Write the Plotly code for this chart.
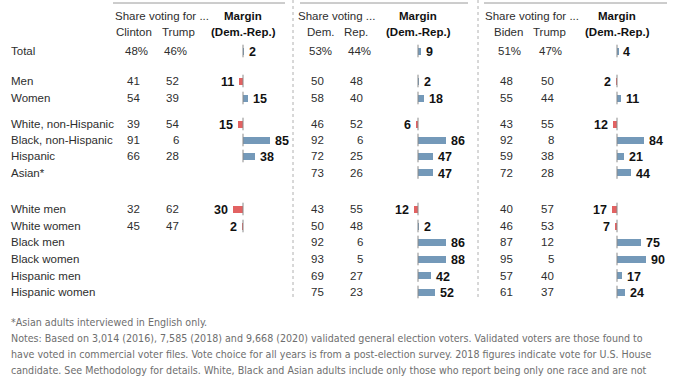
import plotly.graph_objects as go

W, H = 678, 381

categories = ["Total", "Men", "Women", "White, non-Hispanic", "Black, non-Hispanic",
              "Hispanic", "Asian*", "White men", "White women", "Black men",
              "Black women", "Hispanic men", "Hispanic women"]

# 2016
dem_2016 = [48, 41, 54, 39, 91, 66, None, 32, 45, None, None, None, None]
rep_2016 = [46, 52, 39, 54, 6, 28, None, 62, 47, None, None, None, None]
margin_2016 = [2, -11, 15, -15, 85, 38, None, -30, -2, None, None, None, None]
# 2018
dem_2018 = [53, 50, 58, 46, 92, 72, 73, 43, 50, 92, 93, 69, 75]
rep_2018 = [44, 48, 40, 52, 6, 25, 26, 55, 48, 6, 5, 27, 23]
margin_2018 = [9, 2, 18, -6, 86, 47, 47, -12, 2, 86, 88, 42, 52]
# 2020
dem_2020 = [51, 48, 55, 43, 92, 59, 72, 40, 46, 87, 95, 57, 61]
rep_2020 = [47, 50, 44, 55, 8, 38, 28, 57, 53, 12, 5, 40, 37]
margin_2020 = [4, -2, 11, -12, 84, 21, 44, -17, -7, 75, 90, 17, 24]

col_headers = [("Clinton", "Trump"), ("Dem.", "Rep."), ("Biden", "Trump")]
share_headers = ["Share voting for ...", "Share voting ...", "Share voting for ..."]

footnote_lines = [
    "*Asian adults interviewed in English only.",
    "Notes: Based on 3,014 (2016), 7,585 (2018) and 9,668 (2020) validated general election voters. Validated voters are those found to",
    "have voted in commercial voter files. Vote choice for all years is from a post-election survey. 2018 figures indicate vote for U.S. House",
    "candidate. See Methodology for details. White, Black and Asian adults include only those who report being only one race and are not",
    "Hispanic; Hispanics are of any race. Don\u2019t know responses not shown. There were insufficient sample sizes in 2016 to separately show",
]

# ---- layout geometry (pixels) ----
row_y = [51, 81, 98, 124, 140, 156, 172.5, 209, 226, 242, 259, 275.5, 292]
PX_PER_UNIT = 0.32
panels = [
    dict(dem=dem_2016, rep=rep_2016, margin=margin_2016, zero=243, dem_r=142, rep_r=181,
         dem_c=133.5, rep_c=178, share_c=161.5, line=(113, 285)),
    dict(dem=dem_2018, rep=rep_2018, margin=margin_2018, zero=418, dem_r=326, rep_r=365,
         dem_c=320, rep_c=356.5, share_c=336, line=(300, 468)),
    dict(dem=dem_2020, rep=rep_2020, margin=margin_2020, zero=617, dem_r=515, rep_r=556,
         dem_c=508, rep_c=549, share_c=532, line=(484, 667)),
]
separators = [293, 478]

BLUE = "#7499b9"
RED = "#e26262"
TXT = "#2e2e2e"
BODY_FONT = "Liberation Sans, Arial, sans-serif"
FOOT_FONT = "DejaVu Sans Condensed, Liberation Sans Narrow, sans-serif"


def px(x):
    return x / W


def py(y):
    return 1 - y / H


fig = go.Figure()
annotations = []
shapes = []

for i, p in enumerate(panels):
    ax = "x" if i == 0 else f"x{i+1}"
    lo, hi = p["zero"] - 45, p["zero"] + 50
    rng = [(lo - p["zero"]) / PX_PER_UNIT, (hi - p["zero"]) / PX_PER_UNIT]
    axkey = "xaxis" if i == 0 else f"xaxis{i+1}"
    fig.update_layout(**{axkey: dict(domain=[px(lo), px(hi)], range=rng, visible=False,
                                     fixedrange=True, anchor="y")})
    ys = [y for y, m in zip(row_y, p["margin"]) if m is not None]
    ms = [m for m in p["margin"] if m is not None]
    fig.add_trace(go.Bar(
        x=ms, y=ys, orientation="h", width=7, xaxis=ax, yaxis="y",
        marker=dict(color=[BLUE if m >= 0 else RED for m in ms], line=dict(width=0)),
        showlegend=False, hoverinfo="skip"))
    fig.add_trace(go.Scatter(
        x=[0] * len(ys), y=ys, mode="markers", xaxis=ax, yaxis="y",
        marker=dict(symbol="line-ns", size=9, line=dict(width=1, color="#8a8a8a")),
        showlegend=False, hoverinfo="skip"))
    for y, m in zip(ys, ms):
        annotations.append(dict(
            x=m, y=y, xref=ax, yref="y", text=str(abs(m)), showarrow=False,
            xanchor="left" if m >= 0 else "right", xshift=3 if m >= 0 else -3,
            yshift=-1,
            font=dict(family=BODY_FONT, size=12.5, color="#111111", weight="bold")))
    # share columns
    for j, (y, d, r) in enumerate(zip(row_y, p["dem"], p["rep"])):
        if d is None:
            continue
        suf = "%" if j == 0 else ""
        off = 8 if j == 0 else 0
        annotations.append(dict(x=px(p["dem_r"] + off), y=y, xref="paper", yref="y",
                                text=f"{d}{suf}", showarrow=False, xanchor="right",
                                font=dict(family=BODY_FONT, size=11.5, color=TXT)))
        annotations.append(dict(x=px(p["rep_r"] + off), y=y, xref="paper", yref="y",
                                text=f"{r}{suf}", showarrow=False, xanchor="right",
                                font=dict(family=BODY_FONT, size=11.5, color=TXT)))
    # headers
    annotations.append(dict(x=px(p["share_c"]), y=16, xref="paper", yref="y",
                            text=share_headers[i], showarrow=False, xanchor="center",
                            font=dict(family=BODY_FONT, size=11.5, color=TXT)))
    annotations.append(dict(x=px(p["dem_c"]), y=32, xref="paper", yref="y",
                            text=col_headers[i][0], showarrow=False, xanchor="center",
                            font=dict(family=BODY_FONT, size=11.5, color=TXT)))
    annotations.append(dict(x=px(p["rep_c"]), y=32, xref="paper", yref="y",
                            text=col_headers[i][1], showarrow=False, xanchor="center",
                            font=dict(family=BODY_FONT, size=11.5, color=TXT)))
    annotations.append(dict(x=px(p["zero"]), y=16, xref="paper", yref="y",
                            text="<b>Margin</b>", showarrow=False, xanchor="center",
                            font=dict(family=BODY_FONT, size=11.5, color="#111111")))
    annotations.append(dict(x=px(p["zero"]), y=32, xref="paper", yref="y",
                            text="<b>(Dem.-Rep.)</b>", showarrow=False, xanchor="center",
                            font=dict(family=BODY_FONT, size=11.5, color="#111111")))
    shapes.append(dict(type="line", xref="paper", yref="y", x0=px(p["line"][0]),
                       x1=px(p["line"][1]), y0=3, y1=3,
                       line=dict(color="#9a9a9a", width=1)))

for sx in separators:
    shapes.append(dict(type="line", xref="paper", yref="y", x0=px(sx), x1=px(sx),
                       y0=0, y1=300, line=dict(color="#b0b0b0", width=1, dash="dot")))

for y, c in zip(row_y, categories):
    annotations.append(dict(x=px(9), y=y, xref="paper", yref="y", text=c,
                            showarrow=False, xanchor="left",
                            font=dict(family=BODY_FONT, size=11.5, color=TXT)))

foot_y0, foot_dy = 321.5, 16
for k, line in enumerate(footnote_lines):
    annotations.append(dict(x=px(9), y=py(foot_y0 + k * foot_dy), xref="paper", yref="paper",
                            text=line, showarrow=False, xanchor="left", yanchor="middle",
                            font=dict(family=FOOT_FONT, size=10.6, color="#6e6e6e")))

fig.update_layout(
    width=W, height=H, margin=dict(l=0, r=0, t=0, b=0),
    paper_bgcolor="white", plot_bgcolor="rgba(0,0,0,0)",
    yaxis=dict(range=[H, 0], domain=[0, 1], visible=False, fixedrange=True),
    annotations=annotations, shapes=shapes, bargap=0,
)

fig.write_html("out.html", config={"displayModeBar": False},
               post_script="document.body.style.margin='0';document.body.style.overflow='hidden';")
